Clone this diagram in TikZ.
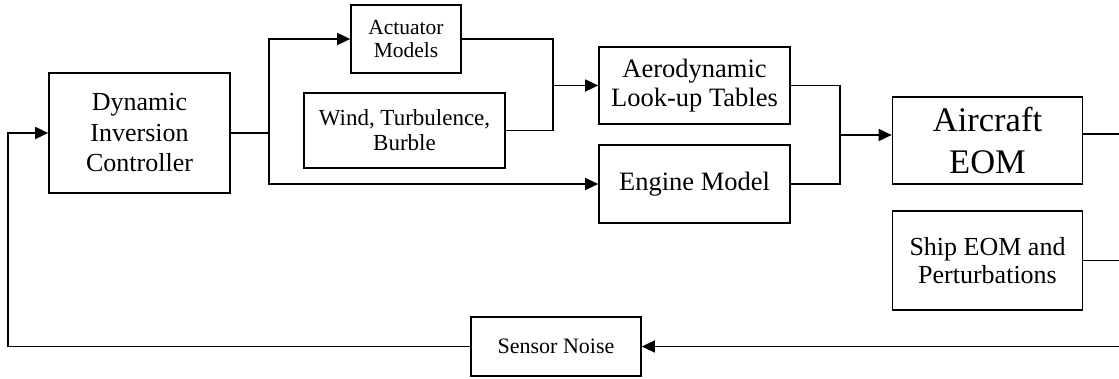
\documentclass[tikz,border=0pt]{standalone}
\usepackage{fontspec}
\setmainfont{Liberation Serif}
\usetikzlibrary{arrows.meta}
\tikzset{
  blk/.style={draw=black, line width=1.7pt, fill=white, inner sep=0pt, align=center, anchor=center},
  wire/.style={line width=1.7pt},
  flow/.style={wire, -{Triangle[length=13pt,width=12pt]}},
}
\newcommand{\fsz}[2]{\fontsize{#1}{#2}\selectfont}
\begin{document}
\begin{tikzpicture}[x=1pt, y=-1pt]
  \useasboundingbox (0,0) rectangle (1119,379);

  % blocks
  \node[blk, minimum width=181pt, minimum height=120pt, font=\fsz{26}{30.5}] (ctrl) at (139.5,133) {Dynamic\\Inversion\\Controller};
  \node[blk, minimum width=110pt, minimum height=68pt, font=\fsz{21.5}{23.5}] (act) at (406,39) {Actuator\\Models};
  \node[blk, minimum width=201pt, minimum height=75pt, font=\fsz{23}{25}] (wind) at (404.5,130.5) {Wind, Turbulence,\\Burble};
  \node[blk, minimum width=191pt, minimum height=77pt, font=\fsz{26.5}{28.5}] (aero) at (694.5,85.5) {Aerodynamic\\Look-up Tables};
  \node[blk, minimum width=191pt, minimum height=78pt, font=\fsz{26.5}{28.5}] (eng) at (694.5,184) {Engine Model};
  \node[blk, minimum width=190pt, minimum height=87pt, font=\fsz{34.5}{42}] (air) at (987.5,140.5) {Aircraft\\EOM};
  \node[blk, minimum width=190pt, minimum height=99pt, font=\fsz{26}{28.5}] (ship) at (987.5,260.5) {Ship EOM and\\Perturbations};
  \node[blk, minimum width=170pt, minimum height=59pt, font=\fsz{22}{24}] (sens) at (556,346.5) {Sensor Noise};

  % junction points
  \coordinate (split) at (269,133);
  \coordinate (j1) at (553,85.5);
  \coordinate (j2) at (840,135);
  \coordinate (out1) at (1119,134);
  \coordinate (out2) at (1119,260.5);
  \coordinate (out3) at (1119,346.5);
  \coordinate (fb) at (8,346.5);

  % controller outputs
  \draw[wire] (ctrl.east |- split) -- (split);
  \draw[flow] (split) |- (act.west);
  \draw[flow] (split) |- (eng.west);

  % actuator and disturbance summing into the aero tables
  \draw[wire] (act.east) -| (j1);
  \draw[wire] (wind.east) -| (j1);
  \draw[flow] (j1) -- (aero.west);

  % forces and moments into the aircraft equations
  \draw[wire] (aero.east) -| (j2);
  \draw[wire] (eng.east) -| (j2);
  \draw[flow] (j2) -- (j2 -| air.west);

  % states leaving to the right
  \draw[wire] (out1 -| air.east) -- (out1);
  \draw[wire] (ship.east) -- (out2);

  % feedback path
  \draw[flow] (out3) -- (sens.east);
  \draw[flow] (sens.west) -- (fb) |- (ctrl.west);
\end{tikzpicture}
\end{document}
